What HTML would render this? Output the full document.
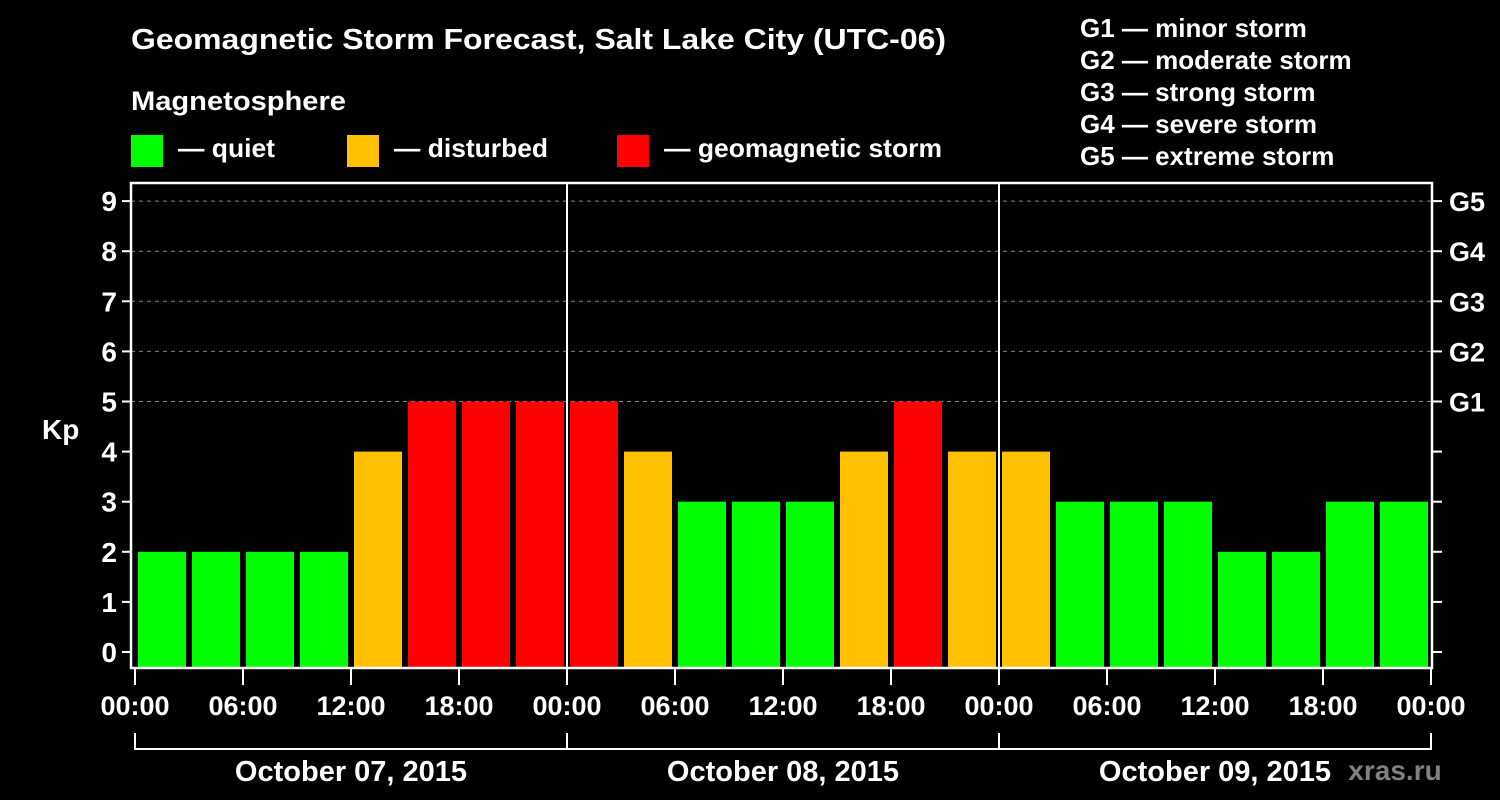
<!DOCTYPE html>
<html><head><meta charset="utf-8"><style>
html,body{margin:0;padding:0;background:#000;width:1500px;height:800px;overflow:hidden}
svg text{font-family:"Liberation Sans",sans-serif;font-weight:bold;fill:#fff}
</style></head><body>
<svg id="chart" width="1500" height="800" viewBox="0 0 1500 800">
<text x="131" y="49" font-size="29" textLength="815" lengthAdjust="spacingAndGlyphs">Geomagnetic Storm Forecast, Salt Lake City (UTC-06)</text>
<text x="131" y="110" font-size="27" textLength="215" lengthAdjust="spacingAndGlyphs">Magnetosphere</text>
<g><rect x="131" y="135" width="32" height="32" fill="#00ff00"/><text x="178" y="157" font-size="26" textLength="97" lengthAdjust="spacingAndGlyphs">— quiet</text></g>
<g><rect x="347" y="135" width="32" height="32" fill="#ffc000"/><text x="394" y="157" font-size="26" textLength="154" lengthAdjust="spacingAndGlyphs">— disturbed</text></g>
<g><rect x="617" y="135" width="32" height="32" fill="#ff0000"/><text x="664" y="157" font-size="26" textLength="278" lengthAdjust="spacingAndGlyphs">— geomagnetic storm</text></g>
<g font-size="26">
<text x="1080" y="37">G1 — minor storm</text>
<text x="1080" y="69">G2 — moderate storm</text>
<text x="1080" y="101">G3 — strong storm</text>
<text x="1080" y="133">G4 — severe storm</text>
<text x="1080" y="165">G5 — extreme storm</text>
</g>
<text x="42" y="439" font-size="28">Kp</text>
<g id="grid"></g><g id="bars"></g><g id="axes"></g>
<text x="1395" y="780" font-size="28" text-anchor="middle" style="fill:#808080">xras.ru</text>
</svg>
<script>
const kpValues=[2,2,2,2,4,5,5,5, 5,4,3,3,3,4,5,4, 4,3,3,3,2,2,3,3];
const yTicks=[0,1,2,3,4,5,6,7,8,9];
const gLabels=["G1","G2","G3","G4","G5"];
const xTickLabels=["00:00","06:00","12:00","18:00","00:00","06:00","12:00","18:00","00:00","06:00","12:00","18:00","00:00"];
const dayLabels=["October 07, 2015","October 08, 2015","October 09, 2015"];
const NS="http://www.w3.org/2000/svg";
const L=131,R=1432,T=183,B=668;
const x=h=>135+h*18;
const y=k=>652-k*50.1;
function mk(tag,attrs,parent){const e=document.createElementNS(NS,tag);for(const k in attrs)e.setAttribute(k,attrs[k]);parent.appendChild(e);return e;}
const grid=document.getElementById('grid'),bars=document.getElementById('bars'),axes=document.getElementById('axes');
yTicks.forEach(k=>{
 if(k>=5){const g=mk('line',{x1:L,x2:R,y1:y(k),y2:y(k),stroke:'#888','stroke-dasharray':'4,4','stroke-width':1},grid);
 
 }
 const t=mk('line',{x1:L-9,x2:L,y1:y(k),y2:y(k),stroke:'#fff','stroke-width':2},axes);
 
 
 const t2=mk('line',{x1:R,x2:R+10,y1:y(k),y2:y(k),stroke:'#fff','stroke-width':2},axes);
 
 
 const lb=mk('text',{x:L-14,y:y(k)+10,'font-size':28,'text-anchor':'end'},axes);lb.textContent=k;
 
 
 if(k>=5){const gl=mk('text',{x:R+17,y:y(k)+10,'font-size':27},axes);gl.textContent=gLabels[k-5];
 
 }
});
const col=v=>v>=5?'#ff0000':(v==4?'#ffc000':'#00ff00');
kpValues.forEach((v,i)=>{
 const r=mk('rect',{x:x(i*3)+3,y:y(v),width:48,height:B-y(v),fill:col(v)},bars);
 
 
});
[1,2].forEach(d=>{const l=mk('line',{x1:x(d*24),x2:x(d*24),y1:T,y2:B,stroke:'#fff','stroke-width':2},axes);
 
 });
const fr=mk('rect',{x:L,y:T,width:R-L,height:B-T,fill:'none',stroke:'#fff','stroke-width':2.5},axes);


xTickLabels.forEach((s,i)=>{
 const xx=x(i*6);
 const t=mk('line',{x1:xx,x2:xx,y1:B,y2:B+17,stroke:'#fff','stroke-width':2},axes);
 
 
 const lb=mk('text',{x:xx,y:715,'font-size':27,'text-anchor':'middle'},axes);lb.textContent=s;
 
 
});
const br=mk('line',{x1:x(0),x2:x(72),y1:749,y2:749,stroke:'#fff','stroke-width':2},axes);


[0,1,2,3].forEach(d=>{const l=mk('line',{x1:x(d*24),x2:x(d*24),y1:733,y2:750,stroke:'#fff','stroke-width':2},axes);
 
 });
dayLabels.forEach((s,d)=>{const t=mk('text',{x:x(d*24+12),y:781,'font-size':29,'text-anchor':'middle'},axes);t.textContent=s;
 
 });
</script>
</body></html>
